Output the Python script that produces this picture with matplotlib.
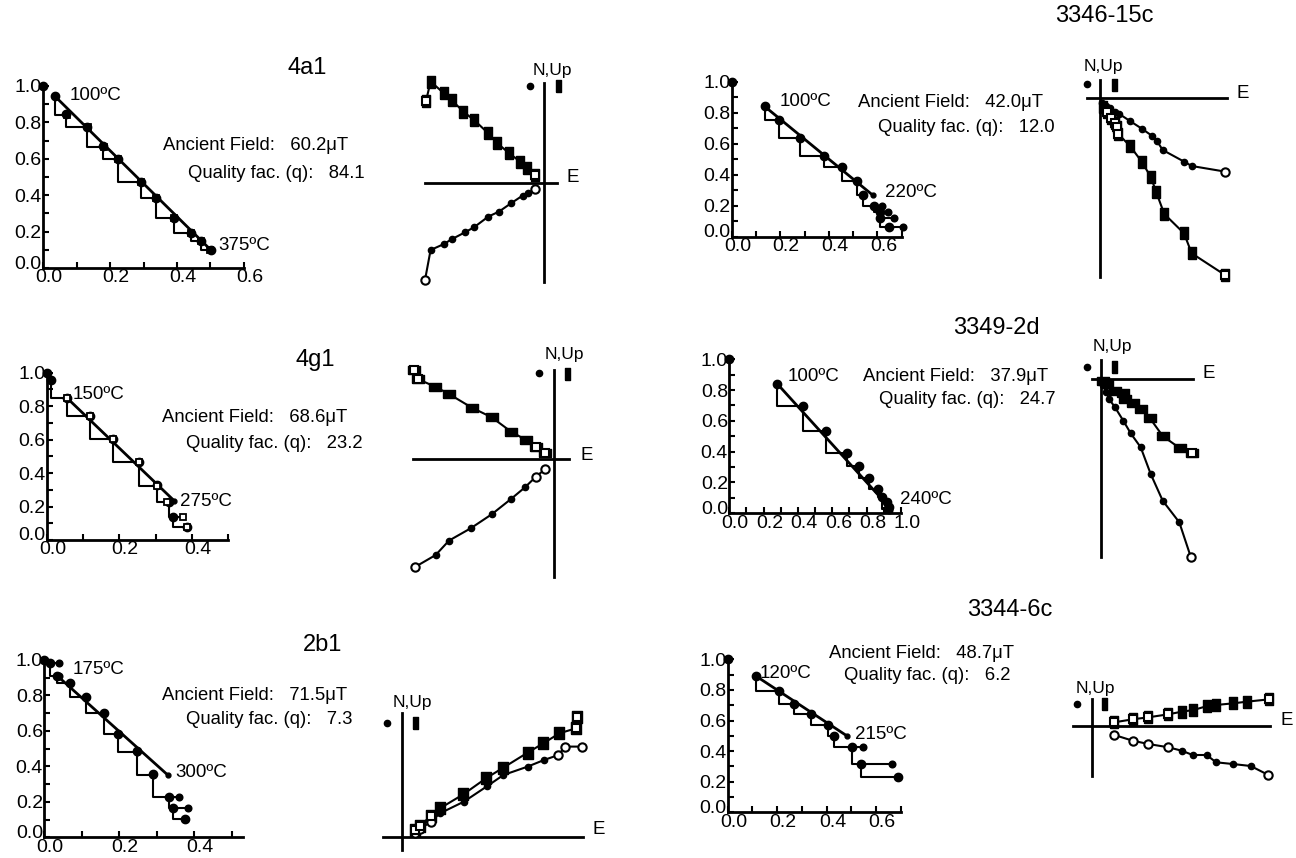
import numpy as np
import matplotlib
matplotlib.use("Agg")
import matplotlib.pyplot as plt
from matplotlib.lines import Line2D
from matplotlib.transforms import ScaledTranslation

plt.rcParams['font.family'] = ['Liberation Sans', 'DejaVu Sans']

W, H = 1296, 858

# sample info
samples = ['4a1', '4g1', '2b1', '3346-15c', '3349-2d', '3344-6c']
anc_field = ['60.2', '68.6', '71.5', '42.0', '37.9', '48.7']
quality = ['84.1', '23.2', '7.3', '12.0', '24.7', '6.2']
t_first = ['100ºC', '150ºC', '175ºC', '100ºC', '100ºC', '120ºC']
t_last = ['375ºC', '275ºC', '300ºC', '220ºC', '240ºC', '215ºC']

# Arai plots: pTRM gained (x) vs NRM remaining (y)
a1_x = [0.0, 0.035, 0.070, 0.131, 0.179, 0.224, 0.293, 0.336, 0.392, 0.443, 0.473, 0.502]
a1_y = [1.0, 0.945, 0.846, 0.773, 0.671, 0.598, 0.470, 0.386, 0.274, 0.192, 0.146, 0.097]
a1_ck_from = [1, 2, 3, 4, 5, 6, 7, 8, 9, 10]
a1_ck_x = [0.072, 0.134, 0.181, 0.224, 0.293, 0.336, 0.392, 0.443, 0.473, 0.500]
a1_ck_y = [0.841, 0.773, 0.667, 0.598, 0.470, 0.386, 0.274, 0.192, 0.146, 0.097]
a1_fit_x = [0.035, 0.502]
a1_fit_y = [0.945, 0.097]

a2_x = [0.0, 0.011, 0.055, 0.118, 0.182, 0.253, 0.305, 0.338, 0.349, 0.386]
a2_y = [1.0, 0.955, 0.851, 0.741, 0.602, 0.468, 0.329, 0.225, 0.139, 0.076]
a2_ck_from = [1, 2, 3, 4, 5, 6, 7, 8]
a2_ck_x = [0.055, 0.118, 0.182, 0.253, 0.305, 0.331, 0.375, 0.386]
a2_ck_y = [0.851, 0.741, 0.602, 0.468, 0.323, 0.225, 0.139, 0.076]
a2_fit_x = [0.055, 0.351]
a2_fit_y = [0.851, 0.235]

a3_x = [0.0, 0.015, 0.035, 0.069, 0.112, 0.159, 0.196, 0.246, 0.289, 0.333, 0.342, 0.376]
a3_y = [1.0, 0.985, 0.912, 0.868, 0.789, 0.703, 0.581, 0.487, 0.357, 0.226, 0.164, 0.103]
a3_ck_from = [0, 1, 2, 3, 4, 5, 6, 7, 8, 9, 10]
a3_ck_x = [0.040, 0.040, 0.069, 0.112, 0.159, 0.196, 0.246, 0.289, 0.358, 0.383, 0.376]
a3_ck_y = [0.985, 0.912, 0.868, 0.789, 0.703, 0.581, 0.483, 0.352, 0.226, 0.164, 0.103]
a3_fit_x = [0.035, 0.329]
a3_fit_y = [0.910, 0.352]

a4_x = [0.0, 0.137, 0.196, 0.281, 0.380, 0.453, 0.517, 0.542, 0.586, 0.610, 0.609, 0.649]
a4_y = [1.0, 0.845, 0.753, 0.634, 0.520, 0.447, 0.361, 0.269, 0.198, 0.161, 0.118, 0.060]
a4_ck_from = [1, 2, 3, 4, 5, 6, 7, 8, 9, 10]
a4_ck_x = [0.196, 0.281, 0.380, 0.453, 0.517, 0.542, 0.617, 0.645, 0.669, 0.704]
a4_ck_y = [0.753, 0.634, 0.520, 0.447, 0.361, 0.269, 0.198, 0.161, 0.118, 0.060]
a4_fit_x = [0.137, 0.580]
a4_fit_y = [0.839, 0.269]

a5_x = [0.0, 0.280, 0.427, 0.563, 0.687, 0.757, 0.816, 0.868, 0.887, 0.917, 0.932]
a5_y = [1.0, 0.840, 0.697, 0.537, 0.394, 0.310, 0.232, 0.156, 0.108, 0.076, 0.043]
a5_ck_from = [1, 2, 3, 4, 5, 6, 7, 8, 9]
a5_ck_x = [0.427, 0.563, 0.687, 0.757, 0.816, 0.868, 0.887, 0.917, 0.932]
a5_ck_y = [0.697, 0.537, 0.394, 0.310, 0.232, 0.156, 0.108, 0.025, 0.020]
a5_fit_x = [0.280, 0.920]
a5_fit_y = [0.840, 0.054]

a6_x = [0.0, 0.114, 0.207, 0.268, 0.336, 0.407, 0.429, 0.502, 0.540, 0.690]
a6_y = [1.0, 0.891, 0.795, 0.706, 0.643, 0.571, 0.499, 0.429, 0.316, 0.229]
a6_ck_from = [1, 2, 3, 4, 5, 6, 7, 8]
a6_ck_x = [0.207, 0.268, 0.336, 0.407, 0.429, 0.547, 0.663, 0.690]
a6_ck_y = [0.795, 0.706, 0.643, 0.571, 0.499, 0.429, 0.316, 0.229]
a6_fit_x = [0.114, 0.483]
a6_fit_y = [0.891, 0.499]

# Zijderveld diagrams (arbitrary units): h = horizontal proj. (dots), v = vertical proj. (bars)
z1_hx = [-119.3, -113.7, -100.3, -92.7, -79.3, -70.3, -56.0, -45.3, -33.3, -21.7, -16.0, -9.3]
z1_hy = [-96.7, -66.7, -60.7, -56.0, -49.0, -44.0, -33.3, -28.3, -20.0, -12.3, -10.0, -5.7]
z1_vx = [-118.3, -113.7, -100.3, -92.7, -81.0, -70.3, -56.0, -47.0, -35.0, -24.3, -17.7, -9.3]
z1_vy = [82.3, 101.7, 90.0, 83.3, 71.7, 63.3, 50.0, 40.0, 30.0, 21.7, 15.0, 8.3]
z1_h_open = [0, 11]
z1_v_open = [0, 11]

z2_hx = [-139.0, -118.3, -105.0, -83.3, -62.3, -43.0, -29.0, -18.0, -9.0]
z2_hy = [-107.7, -95.7, -81.3, -69.0, -55.0, -39.7, -28.0, -17.3, -10.0]
z2_vx = [-140.0, -135.7, -119.0, -105.0, -82.3, -62.3, -43.0, -28.0, -18.0, -9.0]
z2_vy = [89.3, 80.0, 72.7, 65.3, 51.7, 42.0, 27.7, 19.3, 12.7, 6.7]
z2_h_open = [0, 7, 8]
z2_v_open = [0, 1, 8, 9]

z3_hx = [13.3, 18.3, 29.0, 38.3, 62.3, 85.7, 101.7, 126.0, 142.3, 156.7, 163.3, 180.0]
z3_hy = [4.7, 8.0, 15.7, 24.0, 35.7, 51.3, 62.3, 70.7, 77.3, 82.3, 90.7, 90.7]
z3_vx = [13.3, 18.3, 29.0, 38.3, 61.7, 84.3, 101.7, 126.0, 141.7, 157.7, 174.3, 175.0]
z3_vy = [7.3, 11.3, 21.3, 29.0, 43.0, 59.0, 69.7, 84.7, 94.0, 104.0, 109.0, 120.7]
z3_h_open = [0, 1, 2, 9, 10, 11]
z3_v_open = [0, 1, 2, 10, 11]

z4_hx = [1.7, 6.0, 10.0, 15.0, 19.3, 30.0, 42.3, 51.7, 56.7, 62.7, 84.0, 91.7, 125.0]
z4_hy = [-5.0, -7.7, -10.0, -13.3, -15.7, -22.7, -30.7, -37.3, -42.3, -51.7, -63.3, -67.7, -73.3]
z4_vx = [3.3, 7.3, 10.7, 15.0, 16.7, 18.3, 30.0, 41.7, 51.0, 56.0, 64.3, 84.0, 91.7, 125.0]
z4_vy = [-8.3, -13.3, -20.0, -25.0, -29.0, -35.7, -47.7, -63.3, -79.0, -93.3, -115.7, -135.0, -155.0, -176.7]
z4_h_open = [12]
z4_v_open = [1, 2, 3, 4, 5, 13]

z5_hx = [2.3, 5.0, 8.3, 14.0, 22.3, 29.7, 39.7, 49.7, 61.7, 78.3, 89.7]
z5_hy = [-6.0, -12.7, -20.3, -28.3, -41.7, -54.3, -68.3, -95.0, -121.7, -143.3, -177.7]
z5_vx = [2.3, 5.7, 14.0, 22.3, 24.0, 31.7, 39.7, 49.0, 61.7, 79.0, 90.7]
z5_vy = [-1.7, -5.0, -11.7, -14.3, -20.3, -23.7, -30.3, -39.3, -57.0, -69.3, -74.3]
z5_h_open = [10]
z5_v_open = [10]

z6_hx = [22.7, 41.0, 56.7, 76.7, 90.0, 101.0, 115.0, 124.3, 141.0, 159.0, 176.7]
z6_hy = [-9.0, -14.7, -18.0, -21.3, -24.7, -29.0, -29.0, -36.3, -38.0, -40.0, -49.0]
z6_vx = [22.7, 41.0, 56.7, 76.7, 90.0, 101.7, 115.7, 124.3, 141.7, 155.0, 177.7]
z6_vy = [3.7, 6.7, 8.7, 11.7, 14.3, 16.0, 20.0, 21.0, 22.7, 24.3, 26.7]
z6_h_open = [0, 1, 2, 3, 10]
z6_v_open = [0, 1, 2, 3, 10]

arai = [
    (a1_x, a1_y, a1_ck_from, a1_ck_x, a1_ck_y, a1_fit_x, a1_fit_y),
    (a2_x, a2_y, a2_ck_from, a2_ck_x, a2_ck_y, a2_fit_x, a2_fit_y),
    (a3_x, a3_y, a3_ck_from, a3_ck_x, a3_ck_y, a3_fit_x, a3_fit_y),
    (a4_x, a4_y, a4_ck_from, a4_ck_x, a4_ck_y, a4_fit_x, a4_fit_y),
    (a5_x, a5_y, a5_ck_from, a5_ck_x, a5_ck_y, a5_fit_x, a5_fit_y),
    (a6_x, a6_y, a6_ck_from, a6_ck_x, a6_ck_y, a6_fit_x, a6_fit_y),
]
zij = [
    (z1_hx, z1_hy, z1_vx, z1_vy, z1_h_open, z1_v_open),
    (z2_hx, z2_hy, z2_vx, z2_vy, z2_h_open, z2_v_open),
    (z3_hx, z3_hy, z3_vx, z3_vy, z3_h_open, z3_v_open),
    (z4_hx, z4_hy, z4_vx, z4_vy, z4_h_open, z4_v_open),
    (z5_hx, z5_hy, z5_vx, z5_vy, z5_h_open, z5_v_open),
    (z6_hx, z6_hy, z6_vx, z6_vy, z6_h_open, z6_v_open),
]

# marker shapes for the vertical-projection bars
TALL = [(-0.33, -0.5), (0.33, -0.5), (0.33, 0.5), (-0.33, 0.5), (-0.33, -0.5)]
WIDE = [(-0.5, -0.33), (0.5, -0.33), (0.5, 0.33), (-0.5, 0.33), (-0.5, -0.33)]
SQR = [(-0.42, -0.5), (0.42, -0.5), (0.42, 0.5), (-0.42, 0.5), (-0.42, -0.5)]
LEG_BAR = [(-0.2, -0.5), (0.2, -0.5), (0.2, 0.5), (-0.2, 0.5), (-0.2, -0.5)]

# layout in figure pixels (y measured from top)
lay = [
    dict(box=(43, 268, 201, 182), xmax=0.6, ck='s', ckfc='k', t1=(15, 1), t2=(7, 5),
         title=(287, 68), l1=(163, 146), l2=(188, 173),
         org=(544.3, 183.3), arms=(119.3, 12.7, 100.3, 98.7), vm=TALL,
         nup=(533, 70), e=(567, 177), dot=(530, 86), bar=(558, 86)),
    dict(box=(46.7, 540, 181.5, 167.3), xmax=0.5, ck='s', ckfc='w', t1=(6, 3), t2=(6, -1),
         title=(295, 360), l1=(162, 417), l2=(186, 443),
         org=(554, 459.3), arms=(141, 15, 89.3, 118), vm=WIDE,
         nup=(545, 355), e=(580, 455), dot=(539, 373), bar=(567, 374)),
    dict(box=(44.3, 837.3, 198.7, 177.3), xmax=0.53, ck='o', ckfc='k', t1=(15, 6), t2=(8, 2),
         title=(303, 645), l1=(162, 695), l2=(186, 720),
         org=(401.7, 837.3), arms=(18.7, 181.3, 124.3, 12.7), vm=SQR,
         nup=(393, 702), e=(592, 830), dot=(387, 723), bar=(415, 723)),
    dict(box=(731.7, 236.7, 170, 155), xmax=0.7, ck='o', ckfc='k', t1=(15, 5), t2=(12, 3),
         title=(1055, 16), l1=(858, 102.7), l2=(878, 127),
         org=(1100, 98.3), arms=(13.3, 126.7, 18.3, 178.4), vm=TALL,
         nup=(1084, 66.7), e=(1237, 93), dot=(1086.7, 84), bar=(1114, 84.5)),
    dict(box=(729.3, 513.3, 171.7, 154), xmax=1.0, ck='o', ckfc='k', t1=(10, 7), t2=(13, 5),
         title=(953, 328), l1=(862.7, 376.7), l2=(879, 400),
         org=(1101, 379), arms=(9.3, 91.7, 19, 177.7), vm=WIDE,
         nup=(1092.7, 346.7), e=(1203, 374), dot=(1086.7, 367.3), bar=(1114, 367)),
    dict(box=(727.7, 812.3, 173, 153), xmax=0.7, ck='o', ckfc='k', t1=(4, 2), t2=(8, 1),
         title=(967, 610), l1=(829.3, 653.3), l2=(844, 676),
         org=(1091.7, 726), arms=(18.7, 178.3, 27, 50), vm=TALL,
         nup=(1076, 688), e=(1280, 720.7), dot=(1076.7, 704), bar=(1104, 703.5)),
]

fig = plt.figure(figsize=(W / 100, H / 100), dpi=100)
LW = 1.5
FS_TICK = 14
FS_LAB = 13.3


def add_px_axes(left, bottom, width, height):
    return fig.add_axes([left / W, 1 - bottom / H, width / W, height / H])


def ftext(x, y, s, **kw):
    kw.setdefault('va', 'center')
    fig.text(x / W, 1 - y / H, s, **kw)


def fmark(x, y, marker, ms):
    fig.add_artist(Line2D([x / W], [1 - y / H], marker=marker, ms=ms, color='k',
                          mec='k', ls='none', transform=fig.transFigure))


for i in range(6):
    L = lay[i]
    x, y, ck_from, ck_x, ck_y, fit_x, fit_y = arai[i]

    # ---- Arai plot ----
    x0, y0, w, h = L['box']
    ax = add_px_axes(x0, y0, w, h)
    ax.set_xlim(0, L['xmax'])
    ax.set_ylim(0, 1.0)
    ax.patch.set_alpha(0)
    for s in ['top', 'right']:
        ax.spines[s].set_visible(False)
    for s in ['left', 'bottom']:
        ax.spines[s].set_linewidth(2)
    ax.set_xticks(np.arange(0, L['xmax'] + 1e-6, 0.2))
    ax.set_xticks(np.arange(0, L['xmax'] + 1e-6, 0.1), minor=True)
    ax.set_yticks(np.arange(0, 1.01, 0.2))
    ax.set_yticks(np.arange(0, 1.01, 0.1), minor=True)
    ax.xaxis.set_major_formatter('{x:.1f}')
    ax.yaxis.set_major_formatter('{x:.1f}')
    ax.tick_params(which='both', direction='in', length=4, width=1.5,
                   labelsize=FS_TICK, pad=1)
    for lab in ax.get_xticklabels():
        lab.set_transform(lab.get_transform() + ScaledTranslation(0.06, 0, fig.dpi_scale_trans))
    ylab0 = ax.get_yticklabels()[0]
    ylab0.set_transform(ylab0.get_transform() + ScaledTranslation(0, 0.06, fig.dpi_scale_trans))

    for f, cx, cy in zip(ck_from, ck_x, ck_y):
        ax.plot([x[f], x[f], cx], [y[f], cy, cy], color='k', lw=LW, clip_on=False)
    ax.plot(fit_x, fit_y, color='k', lw=2, clip_on=False)
    ax.plot(fit_x, fit_y, 'o', color='k', ms=3.5, clip_on=False)
    ax.plot(x, y, 'o', color='k', ms=6, clip_on=False, zorder=3)
    ax.plot(ck_x, ck_y, L['ck'], mfc=L['ckfc'], mec='k', mew=1.3, ms=4.5,
            clip_on=False, zorder=4)

    ax.annotate(t_first[i], (fit_x[0], fit_y[0]), xytext=(L['t1'][0], L['t1'][1]),
                textcoords='offset pixels', ha='left', va='center', fontsize=13.5)
    ax.annotate(t_last[i], (fit_x[1], fit_y[1]), xytext=(L['t2'][0], L['t2'][1]),
                textcoords='offset pixels', ha='left', va='center', fontsize=13.5)

    # ---- labels ----
    ftext(L['title'][0], L['title'][1], samples[i], fontsize=17, ha='left')
    ftext(L['l1'][0], L['l1'][1], 'Ancient Field:   ' + anc_field[i] + 'μT',
          fontsize=FS_LAB, ha='left')
    ftext(L['l2'][0], L['l2'][1], 'Quality fac. (q):   ' + quality[i],
          fontsize=FS_LAB, ha='left')

    # ---- Zijderveld diagram ----
    hx, hy, vx, vy, h_open, v_open = zij[i]
    ox, oy = L['org']
    al, ar, au, ad = L['arms']
    zx = add_px_axes(ox - al, oy + ad, al + ar, au + ad)
    zx.set_xlim(-al, ar)
    zx.set_ylim(-ad, au)
    zx.patch.set_alpha(0)
    for s in ['top', 'right']:
        zx.spines[s].set_visible(False)
    for s in ['left', 'bottom']:
        zx.spines[s].set_position(('data', 0))
        zx.spines[s].set_linewidth(2)
    zx.set_xticks([])
    zx.set_yticks([])

    zx.plot(hx, hy, color='k', lw=LW, clip_on=False)
    zx.plot(hx, hy, 'o', color='k', ms=4.5, clip_on=False, zorder=3)
    zx.plot([hx[k] for k in h_open], [hy[k] for k in h_open], 'o', mfc='w', mec='k',
            mew=1.5, ms=6, clip_on=False, zorder=4)
    zx.plot(vx, vy, color='k', lw=LW, clip_on=False)
    zx.plot(vx, vy, ls='none', marker=L['vm'], color='k', ms=8.5, clip_on=False, zorder=3)
    zx.plot([vx[k] for k in v_open], [vy[k] for k in v_open], 's', mfc='w', mec='k',
            mew=1.5, ms=5.5, clip_on=False, zorder=4)

    ftext(L['nup'][0], L['nup'][1], 'N,Up', fontsize=12.5, ha='left')
    ftext(L['e'][0], L['e'][1], 'E', fontsize=13.5, ha='left')
    fmark(L['dot'][0], L['dot'][1], 'o', 4.5)
    fmark(L['bar'][0], L['bar'][1], LEG_BAR, 9)

fig.savefig('out.png', dpi=100)
